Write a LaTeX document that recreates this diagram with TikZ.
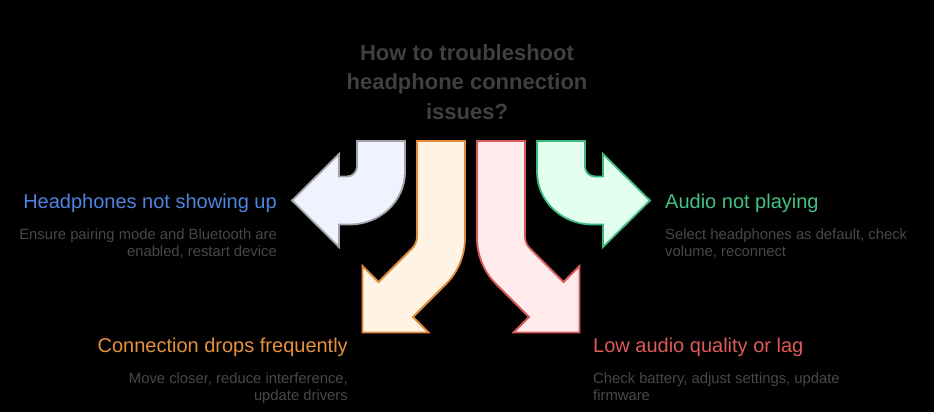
\documentclass[tikz,border=0pt]{standalone}
\usepackage{fontspec}
\setmainfont{Liberation Sans}

\definecolor{titlegray}{HTML}{404040}
\definecolor{descgray}{HTML}{484848}
\definecolor{blueline}{HTML}{A2A4A8}
\definecolor{bluefill}{HTML}{EEF3FF}
\definecolor{bluetext}{HTML}{4F84DE}
\definecolor{orangeline}{HTML}{DC8A3C}
\definecolor{orangefill}{HTML}{FFF3E4}
\definecolor{orangetext}{HTML}{E8913C}
\definecolor{redline}{HTML}{D95A5A}
\definecolor{redfill}{HTML}{FFEBEB}
\definecolor{redtext}{HTML}{E05A56}
\definecolor{greenline}{HTML}{3DB77A}
\definecolor{greenfill}{HTML}{E2FFEF}
\definecolor{greentext}{HTML}{44C284}

\begin{document}
\begin{tikzpicture}[x=1pt,y=-1pt,
  head/.style={inner sep=0pt,font=\fontsize{20}{24}\selectfont},
  desc/.style={inner sep=0pt,text=descgray,font=\fontsize{14.8}{17}\selectfont},
  bendarrow/.style={line width=1.8pt,line join=miter}]
%\draw[help lines] (0,0) grid[step=50pt] (934,412);
\fill[black] (0,0) rectangle (934,412);
\useasboundingbox (0,0) rectangle (934,412);

\node[inner sep=0pt,anchor=north,align=center,text=titlegray,font=\bfseries\fontsize{22}{29.5}\selectfont] (title) at (467,44) {How to troubleshoot\\headphone connection\\issues?};

% left pair, then mirrored for the right pair
\foreach \sh/\m/\la/\fa/\lb/\fb in {0/1/blueline/bluefill/orangeline/orangefill, 942/-1/greenline/greenfill/redline/redfill}
{
\begin{scope}[xshift=\sh pt,xscale=\m]
\draw[bendarrow,draw=\la,fill=\fa] (405,141) -- (405,172) .. controls (405,201) and (380,224.5) .. (350,224.5)
  -- (339,224.5) -- (339,247) -- (292,200.5) -- (339,154) -- (339,176.5) -- (347,176.5)
  .. controls (352.5,176.5) and (357,172) .. (357,166.5) -- (357,141) -- cycle;
\draw[bendarrow,draw=\lb,fill=\fb] (417,141) -- (417,236.5) .. controls (417,241) and (415.2,245.3) .. (412,248.5)
  -- (378.5,282) -- (362.5,266) -- (362.5,332.5) -- (428.5,332.5) -- (413,317) -- (446,284)
  .. controls (458.2,271.8) and (465,255.3) .. (465,238.1) -- (465,141) -- cycle;
\end{scope}
}

\node[head,text=bluetext,anchor=base east] (showing) at (277,208) {Headphones not showing up};
\node[desc,anchor=north east,align=right] (showingfix) at (277,228.5) {Ensure pairing mode and Bluetooth are\\enabled, restart device};

\node[head,text=orangetext,anchor=base east] (drops) at (348,352) {Connection drops frequently};
\node[desc,anchor=north east,align=right] (dropsfix) at (348,372.5) {Move closer, reduce interference,\\update drivers};

\node[head,text=greentext,anchor=base west] (playing) at (665,208) {Audio not playing};
\node[desc,anchor=north west,align=left] (playingfix) at (665,228.5) {Select headphones as default, check\\volume, reconnect};

\node[head,text=redtext,anchor=base west] (quality) at (593,352) {Low audio quality or lag};
\node[desc,anchor=north west,align=left] (qualityfix) at (593,372.5) {Check battery, adjust settings, update\\firmware};
\end{tikzpicture}
\end{document}
